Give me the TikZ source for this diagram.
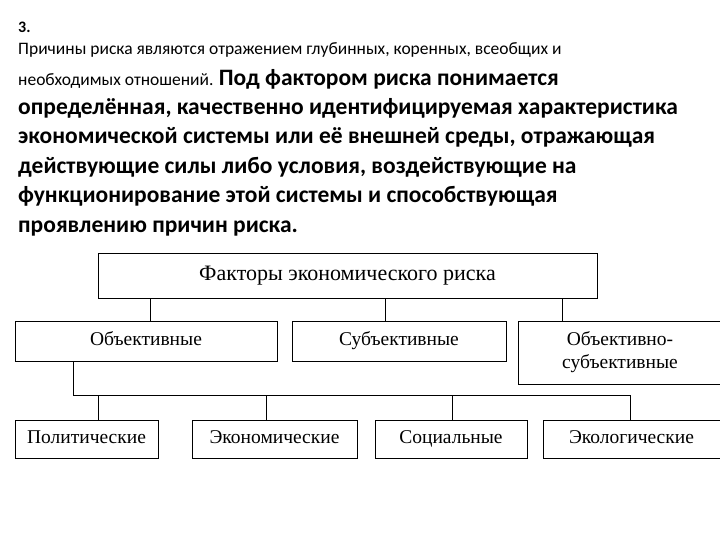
\documentclass[tikz,border=0pt]{standalone}
\usepackage{fontspec}
\setmainfont{Carlito}
\newfontfamily\serif{Liberation Serif}
\begin{document}
\begin{tikzpicture}[x=1pt,y=-1pt,
  box/.style={draw,line width=0.8pt,minimum height=40pt,font=\serif\fontsize{19.5}{21}\selectfont,align=center,inner sep=0pt,text height=13pt,text depth=4pt},
  line/.style={line width=0.8pt},
  tl/.style={anchor=base west,inner sep=0pt},
  sm/.style={font=\fontsize{17.5}{19}\selectfont},
  bg/.style={font=\bfseries\fontsize{23.5}{25}\selectfont}]
\useasboundingbox (0,0) rectangle (720,540);
\node[tl,font=\bfseries\fontsize{16}{18}\selectfont] (t0) at (18,33) {3.};
\node[tl,sm] (t1) at (18,55) {Причины риска являются отражением глубинных, коренных, всеобщих и};
\node[tl] (t2) at (18,86) {\fontsize{17.5}{19}\selectfont необходимых отношений. \bfseries\fontsize{23.5}{25}\selectfont Под фактором риска понимается};
\node[tl,bg] (t3) at (18,115) {определённая, качественно идентифицируемая характеристика};
\node[tl,bg] (t4) at (18,144) {экономической системы или её внешней среды, отражающая};
\node[tl,bg] (t5) at (18,174) {действующие силы либо условия, воздействующие на};
\node[tl,bg] (t6) at (18,203) {функционирование этой системы и способствующая};
\node[tl,bg] (t7) at (18,233) {проявлению причин риска.};

\node[box,minimum width=499pt,minimum height=45pt,font=\serif\fontsize{22}{24}\selectfont] (top) at (347.5,275.5) {Факторы экономического риска};
\node[box,minimum width=262pt] (ob) at (146,341) {Объективные};
\node[box,minimum width=214pt] (sub) at (399,341) {Субъективные};
\node[box,minimum width=204pt,minimum height=63pt,text height=,text depth=] (os) at (620,352.5) {Объективно-\\[2pt]субъективные};
\node[box,minimum width=143pt,minimum height=38pt] (p) at (86.5,439) {Политические};
\node[box,minimum width=165pt,minimum height=38pt] (e) at (274.5,439) {Экономические};
\node[box,minimum width=152pt,minimum height=38pt] (s) at (451,439) {Социальные};
\node[box,minimum width=177pt,minimum height=38pt] (ec) at (631.5,439) {Экологические};

\draw[line] (150,298) -- (150,321);
\draw[line] (top.south) ++(37.5,0) -- ++(0,23);
\draw[line] (562,298) -- (562,321);
\coordinate (b0) at (73,395);
\draw[line] (73,361) -- (b0) -- (630,395);
\foreach \n/\x in {p/98,e/266,s/452,ec/630}
  \draw[line] (\x,395) -- (\x,420);
\end{tikzpicture}
\end{document}
